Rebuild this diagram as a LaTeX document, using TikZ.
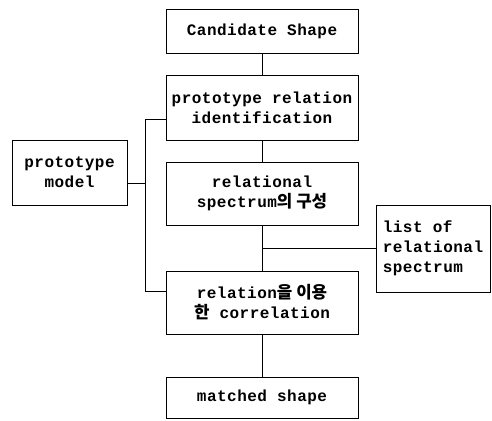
\documentclass[tikz,border=0pt]{standalone}
\usepackage{fontspec}
\setmonofont[LetterSpace=3]{Liberation Mono}
\newfontfamily\krfont[Scale=1.05]{Noto Sans CJK KR}
\usepackage{tikz}
\tikzset{boite/.style={draw, line width=0.7pt, inner sep=0pt, align=center,
  font=\fontsize{16}{20}\selectfont\ttfamily\bfseries}}

\begin{document}
\begin{tikzpicture}[x=1pt, y=-1pt, line width=0.7pt]
	\useasboundingbox (0,0) rectangle (492,420);
	% colonne centrale
	\node[boite, minimum width=192pt, minimum height=44pt] (cand) at (262,31) {Candidate Shape};
	\node[boite, minimum width=192pt, minimum height=65pt] (proto) at (262,107.5) {prototype relation\\identification};
	\node[boite, minimum width=192pt, minimum height=63pt] (spec) at (262,193.5) {relational\\spectrum{\krfont 의 구성}};
	\node[boite, minimum width=192pt, minimum height=63pt] (corr) at (262,302.5) {relation{\krfont 을 이용}\\{\krfont 한} correlation};
	\node[boite, minimum width=192pt, minimum height=41pt] (match) at (262,397.5) {matched shape};
	% boites laterales
	\node[boite, minimum width=115pt, minimum height=65pt] (mdl) at (69.5,172.5) {prototype\\model};
	\node[boite, minimum width=114pt, minimum height=87pt, align=left] (liste) at (433,248.5) {list of\\relational\\spectrum};
	% liaisons verticales
	\draw (cand) -- (proto);
	\draw (proto) -- (spec);
	\draw (spec) -- (corr);
	\draw (corr) -- (match);
	% liste vers la colonne
	\draw (liste.west) -- (liste.west -| spec.south);
	% le bus de gauche
	\draw ([yshift=-11.5pt]proto.west) -- ++(-20,0) |- ([yshift=11.5pt]corr.west);
	\draw ([yshift=-11pt]mdl.east) -- ++(19,0);
\end{tikzpicture}
\end{document}
